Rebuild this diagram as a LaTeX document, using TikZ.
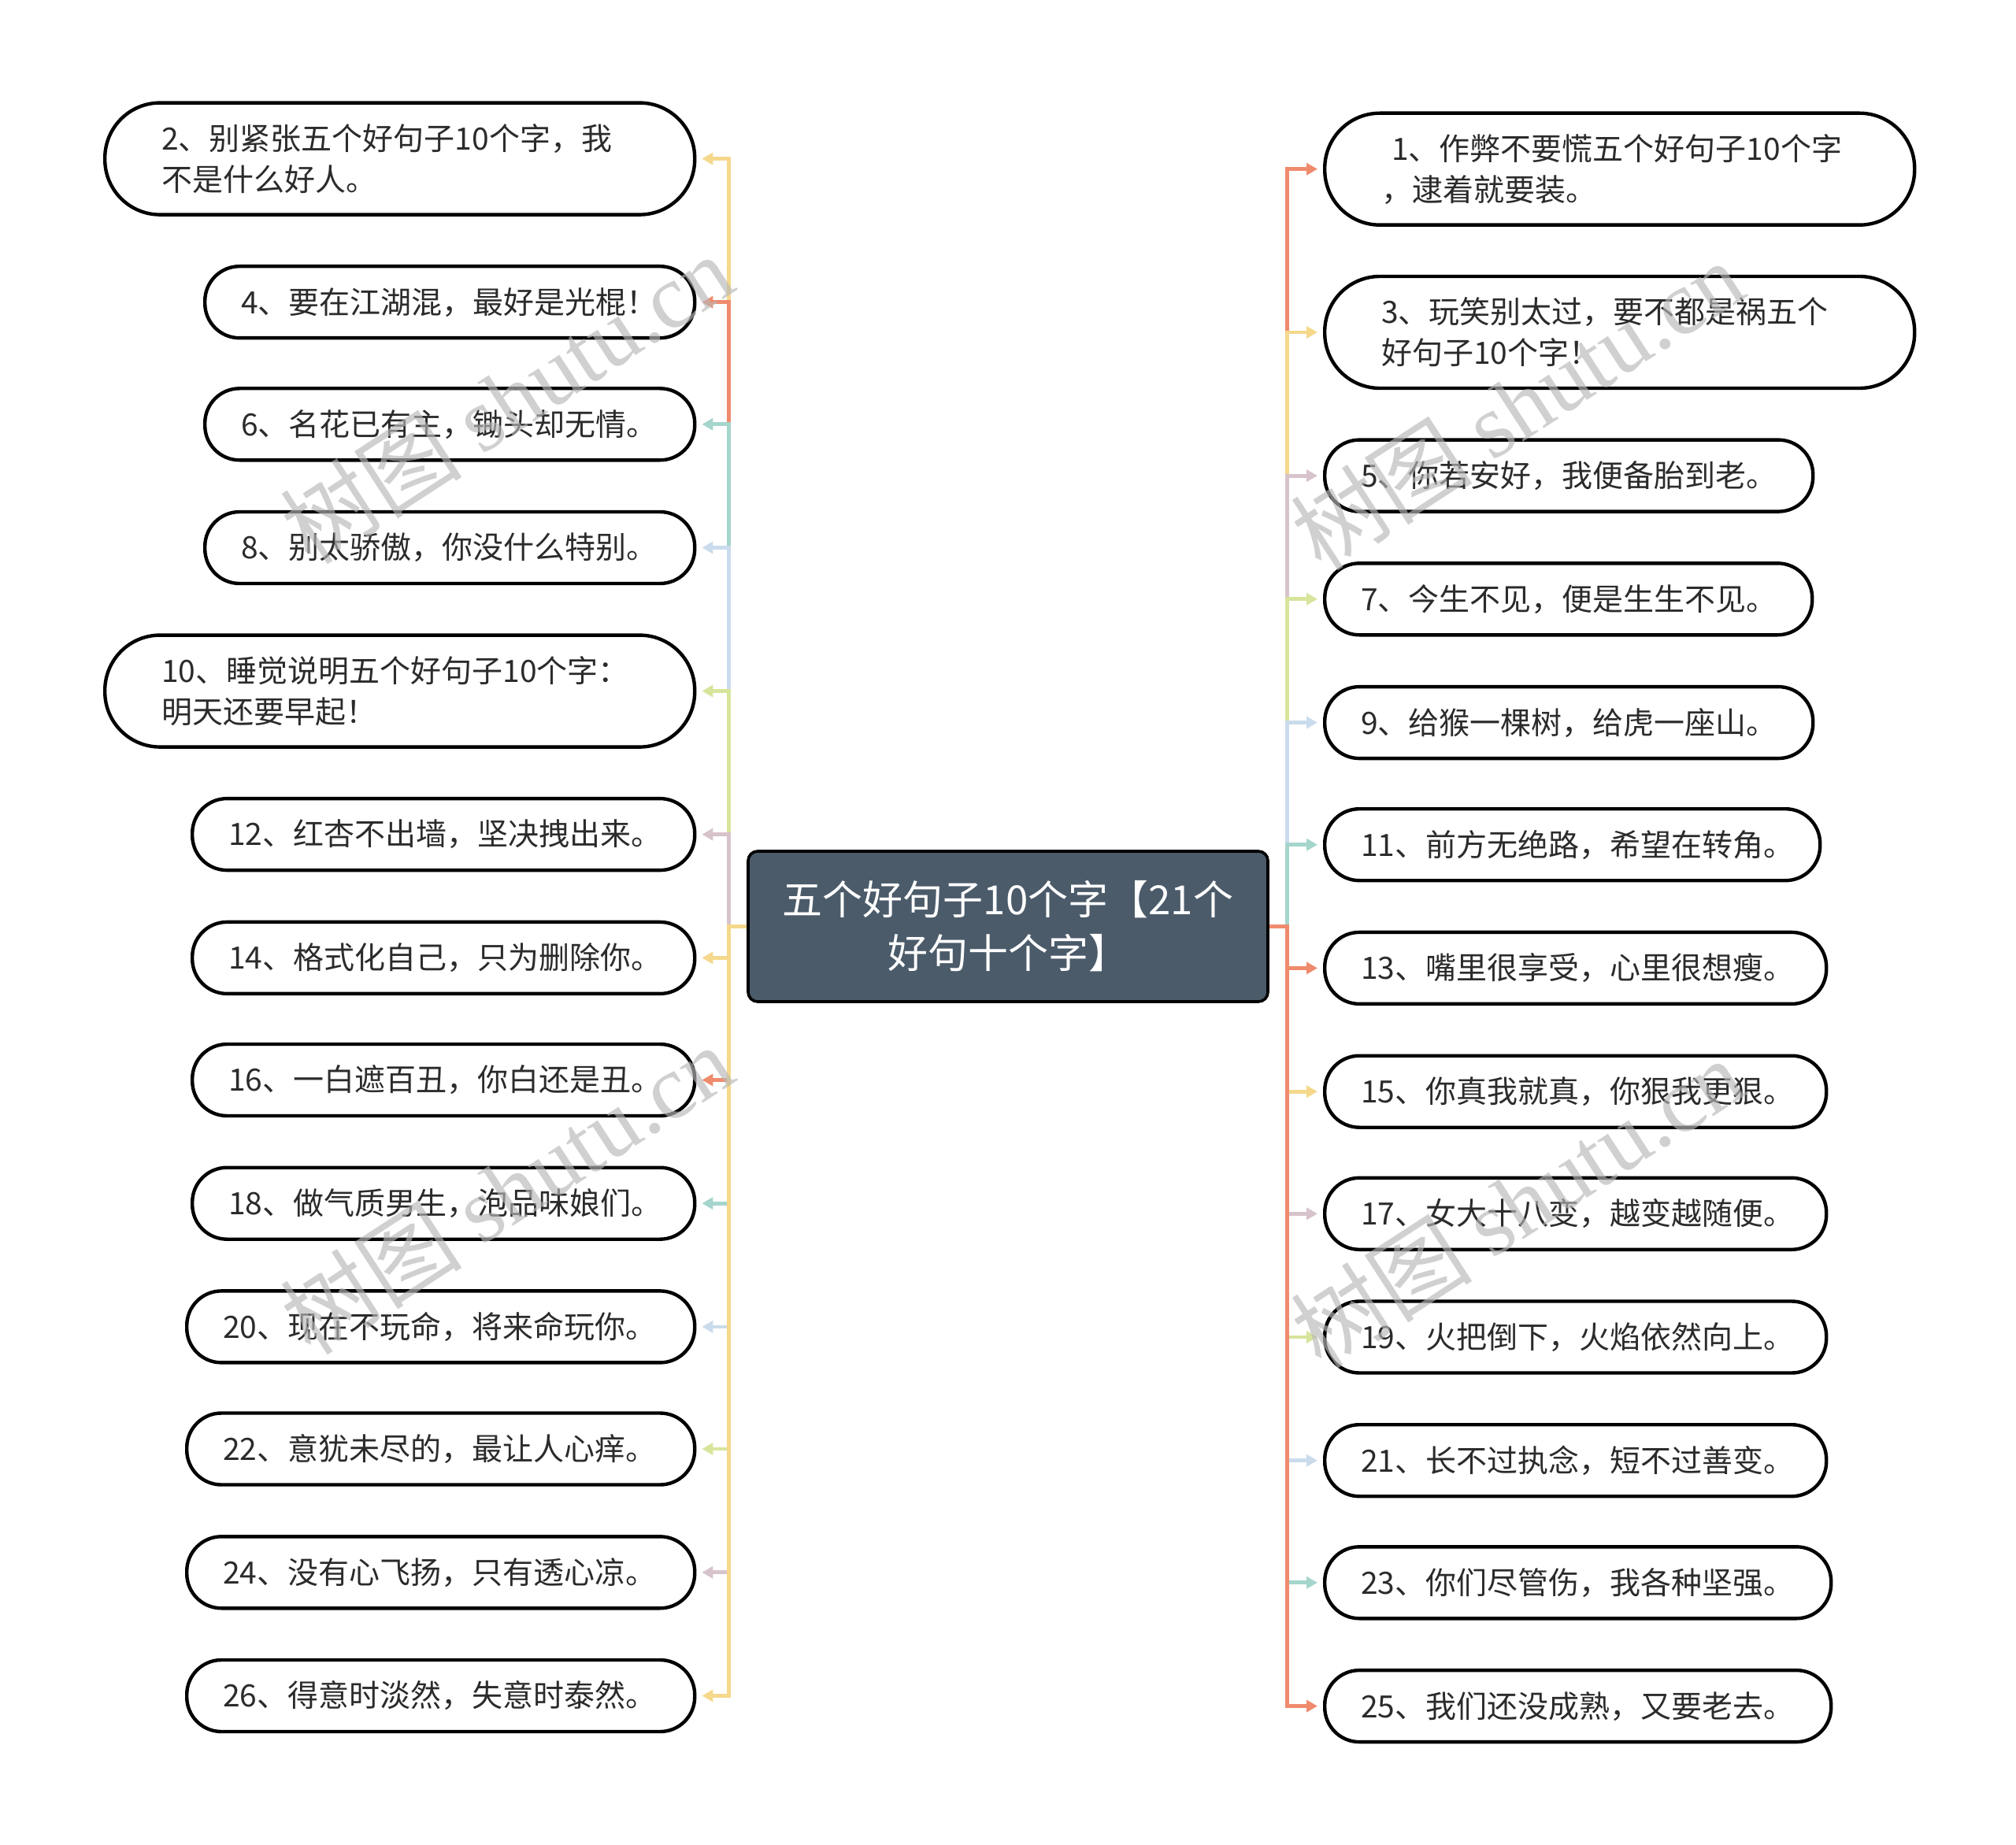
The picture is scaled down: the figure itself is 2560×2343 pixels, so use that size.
\documentclass[tikz,border=0pt]{standalone}
\usepackage{fontspec}
\setmainfont{Noto Sans CJK SC}
\newfontfamily\wmserif{Liberation Serif}
\usetikzlibrary{arrows.meta}
\definecolor{cYel}{HTML}{F5D88C}
\definecolor{cOra}{HTML}{EF8B6D}
\definecolor{cTea}{HTML}{A5D5CC}
\definecolor{cBlu}{HTML}{CADCEC}
\definecolor{cGre}{HTML}{D7E59C}
\definecolor{cMau}{HTML}{D7C3CB}
\definecolor{cCen}{HTML}{4B5B6A}
\definecolor{txt}{HTML}{2B2B2B}
\definecolor{wmgray}{HTML}{B8B8B8}
\begin{document}
\begin{tikzpicture}[x=0.5pt,y=-0.5pt,
  leaf/.style={draw=black, line width=2.2pt, fill=white, rounded corners=22pt,
    minimum height=45.5pt, anchor=west, align=left, text=txt, inner ysep=0pt,
    inner xsep=23pt, font=\fontsize{19.5}{26}\selectfont},
  leafii/.style={leaf, rounded corners=35pt, minimum height=71pt, inner xsep=36pt},
  hub/.style={draw=black, line width=1.8pt, fill=cCen, rounded corners=6pt,
    minimum width=330pt, minimum height=95.5pt, align=center, text=white,
    font=\fontsize{25.5}{34}\selectfont},
  conn/.style={line width=2.4pt, -{Triangle[length=7pt,width=7.5pt]}, shorten >=3.5pt},
  wm/.style={text=wmgray, opacity=0.65, rotate=33, font=\fontsize{58}{58}\selectfont}]
\useasboundingbox (0,0) rectangle (2560,2343);
\fill[white] (0,0) rectangle (2560,2343);

\node[hub] (C) at (1280,1176.5) {五个好句子10个字【21个\\好句十个字】};
\coordinate (LT) at (925.7,1176.5);
\coordinate (RT) at (1634.3,1176.5);

% left
\node[leafii, text width=302.5pt] (L2) at (131,201.6) {\mbox{2、别紧张五个好句子10个字，我}\\\mbox{不是什么好人。}};
\node[leaf, text width=265pt] (L4) at (258,383.7) {\mbox{4、要在江湖混，最好是光棍！}};
\node[leaf, text width=265pt] (L6) at (258,538.8) {\mbox{6、名花已有主，锄头却无情。}};
\node[leaf, text width=265pt] (L8) at (258,695.5) {\mbox{8、别太骄傲，你没什么特别。}};
\node[leafii, text width=302.5pt] (L10) at (131,877.6) {\mbox{10、睡觉说明五个好句子10个字：}\\\mbox{明天还要早起！}};
\node[leaf, text width=273pt] (L12) at (242,1059.6) {\mbox{12、红杏不出墙，坚决拽出来。}};
\node[leaf, text width=273pt] (L14) at (242,1216.4) {\mbox{14、格式化自己，只为删除你。}};
\node[leaf, text width=273pt] (L16) at (242,1371.5) {\mbox{16、一白遮百丑，你白还是丑。}};
\node[leaf, text width=273pt] (L18) at (242,1528.2) {\mbox{18、做气质男生，泡品味娘们。}};
\node[leaf, text width=276.5pt] (L20) at (235,1684.9) {\mbox{20、现在不玩命，将来命玩你。}};
\node[leaf, text width=276.5pt] (L22) at (235,1840.0) {\mbox{22、意犹未尽的，最让人心痒。}};
\node[leaf, text width=276.5pt] (L24) at (235,1996.8) {\mbox{24、没有心飞扬，只有透心凉。}};
\node[leaf, text width=276.5pt] (L26) at (235,2153.5) {\mbox{26、得意时淡然，失意时泰然。}};

% right
\node[leafii, text width=302.5pt] (R1) at (1680,214.7) {\mbox{ 1、作弊不要慌五个好句子10个字}\\\mbox{，逮着就要装。}};
\node[leafii, text width=302.5pt] (R3) at (1680,422.0) {\mbox{3、玩笑别太过，要不都是祸五个}\\\mbox{好句子10个字！}};
\node[leaf, text width=264pt] (R5) at (1680,604.1) {\mbox{5、你若安好，我便备胎到老。}};
\node[leaf, text width=263.5pt] (R7) at (1680,760.8) {\mbox{7、今生不见，便是生生不见。}};
\node[leaf, text width=264pt] (R9) at (1680,917.6) {\mbox{9、给猴一棵树，给虎一座山。}};
\node[leaf, text width=268.5pt] (R11) at (1680,1072.7) {\mbox{11、前方无绝路，希望在转角。}};
\node[leaf, text width=272.5pt] (R13) at (1680,1229.4) {\mbox{13、嘴里很享受，心里很想瘦。}};
\node[leaf, text width=272.5pt] (R15) at (1680,1386.2) {\mbox{15、你真我就真，你狠我更狠。}};
\node[leaf, text width=272.5pt] (R17) at (1680,1541.3) {\mbox{17、女大十八变，越变越随便。}};
\node[leaf, text width=272.5pt] (R19) at (1680,1698.0) {\mbox{19、火把倒下，火焰依然向上。}};
\node[leaf, text width=272.5pt] (R21) at (1680,1854.7) {\mbox{21、长不过执念，短不过善变。}};
\node[leaf, text width=275.5pt] (R23) at (1680,2009.8) {\mbox{23、你们尽管伤，我各种坚强。}};
\node[leaf, text width=275.5pt] (R25) at (1680,2166.6) {\mbox{25、我们还没成熟，又要老去。}};

% left connectors
\draw[conn, cYel] (C.west) -- (LT) |- (L2.east);
\draw[conn, cOra] (C.west) -- (LT) |- (L4.east);
\draw[conn, cTea] (C.west) -- (LT) |- (L6.east);
\draw[conn, cBlu] (C.west) -- (LT) |- (L8.east);
\draw[conn, cGre] (C.west) -- (LT) |- (L10.east);
\draw[conn, cMau] (C.west) -- (LT) |- (L12.east);
\draw[conn, cYel] (C.west) -- (LT) |- (L14.east);
\draw[conn, cOra] (C.west) -- (LT) |- (L16.east);
\draw[conn, cTea] (C.west) -- (LT) |- (L18.east);
\draw[conn, cBlu] (C.west) -- (LT) |- (L20.east);
\draw[conn, cGre] (C.west) -- (LT) |- (L22.east);
\draw[conn, cMau] (C.west) -- (LT) |- (L24.east);
\draw[conn, cYel] (C.west) -- (LT) |- (L26.east);

% right connectors
\draw[conn, cOra] (C.east) -- (RT) |- (R1.west);
\draw[conn, cYel] (C.east) -- (RT) |- (R3.west);
\draw[conn, cMau] (C.east) -- (RT) |- (R5.west);
\draw[conn, cGre] (C.east) -- (RT) |- (R7.west);
\draw[conn, cBlu] (C.east) -- (RT) |- (R9.west);
\draw[conn, cTea] (C.east) -- (RT) |- (R11.west);
\draw[conn, cOra] (C.east) -- (RT) |- (R13.west);
\draw[conn, cYel] (C.east) -- (RT) |- (R15.west);
\draw[conn, cMau] (C.east) -- (RT) |- (R17.west);
\draw[conn, cGre] (C.east) -- (RT) |- (R19.west);
\draw[conn, cBlu] (C.east) -- (RT) |- (R21.west);
\draw[conn, cTea] (C.east) -- (RT) |- (R23.west);
\draw[conn, cOra] (C.east) -- (RT) |- (R25.west);

% watermarks
\node[wm] (w1) at (643,506) {树图 {\wmserif shutu.cn}};
\node[wm] (w2) at (1926,514) {树图 {\wmserif shutu.cn}};
\node[wm] (w3) at (643,1510) {树图 {\wmserif shutu.cn}};
\node[wm] (w4) at (1926,1527) {树图 {\wmserif shutu.cn}};
\end{tikzpicture}
\end{document}
